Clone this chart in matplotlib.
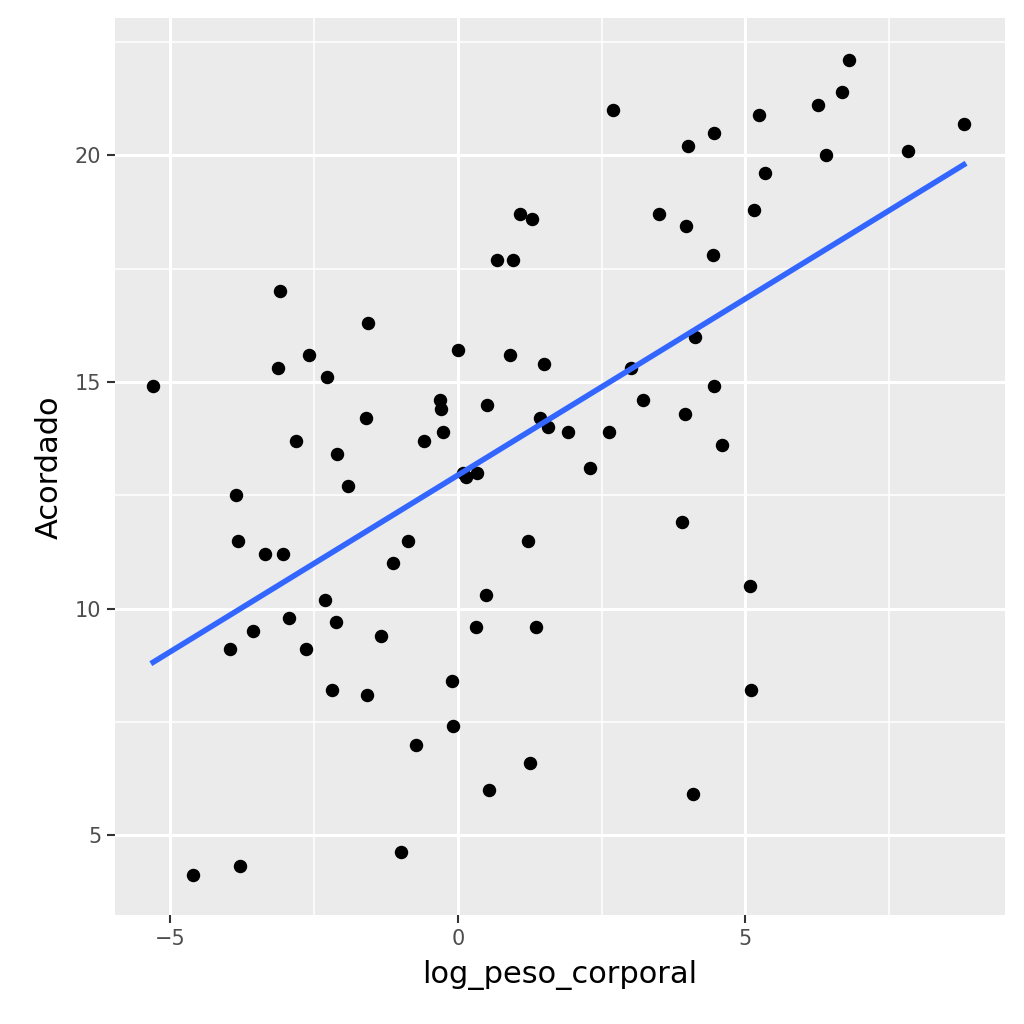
import numpy as np
import matplotlib; matplotlib.use('Agg')
import matplotlib.pyplot as plt

# values
log_peso_corporal = [-5.30,-4.61,-3.79,-3.97,-3.86,-3.83,-3.57,-3.36,-3.04,-3.10,-3.13,-2.94,-2.82,-2.64,
    -2.59,-2.31,-2.28,-2.19,-2.10,-2.12,-1.91,-1.60,-1.57,-1.58,-1.34,-1.13,-0.99,-0.87,-0.73,-0.59,
    -0.31,-0.30,-0.26,-0.10,-0.09,0.00,0.09,0.14,0.33,0.31,0.50,0.49,0.54,0.68,0.90,0.96,1.08,1.22,
    1.25,1.29,1.36,1.43,1.50,1.57,1.91,2.30,2.63,2.70,3.01,3.22,3.50,3.90,3.95,3.97,4.00,4.09,4.12,
    4.43,4.45,4.45,4.59,5.08,5.10,5.15,5.23,5.34,6.26,6.40,6.68,6.80,7.83,8.80]
acordado = [14.91,4.12,4.32,9.1,12.5,11.5,9.5,11.2,11.2,17.0,15.3,9.8,13.7,9.1,
    15.6,10.2,15.1,8.2,13.4,9.7,12.7,14.2,16.3,8.1,9.4,11.0,4.63,11.5,7.0,13.7,
    14.6,14.4,13.9,8.4,7.4,15.7,13.0,12.9,13.0,9.6,14.5,10.3,6.0,17.7,15.6,17.7,18.7,11.5,
    6.6,18.6,9.6,14.2,15.4,14.0,13.9,13.1,13.9,21.0,15.3,14.6,18.7,11.9,14.3,18.45,20.2,5.9,16.0,
    17.8,14.9,20.5,13.6,10.5,8.2,18.8,20.9,19.6,21.1,20.0,21.4,22.1,20.1,20.7]

x = np.array(log_peso_corporal); y = np.array(acordado)
slope, inter = np.polyfit(x, y, 1)

fig = plt.figure(figsize=(10.24, 10.24), dpi=100)
ax = fig.add_axes([0.112, 0.106, 0.869, 0.876])
ax.set_facecolor('#EBEBEB')
for s in ax.spines.values(): s.set_visible(False)
ax.set_xlim(-5.97, 9.51); ax.set_ylim(3.23, 23.02)
ax.set_xticks([-5, 0, 5]); ax.set_yticks([5, 10, 15, 20])
ax.set_xticks([-2.5, 2.5, 7.5], minor=True); ax.set_yticks([7.5, 12.5, 17.5, 22.5], minor=True)
ax.grid(which='major', color='white', lw=2.2)
ax.grid(which='minor', color='white', lw=1.1)
ax.set_axisbelow(True)
ax.tick_params(which='major', length=6, width=1.5, color='#333333', labelsize=15, labelcolor='#4D4D4D')
ax.tick_params(which='minor', length=0)

ax.scatter(x, y, s=75, color='black', zorder=3)
xs = np.array([x.min(), x.max()])
ax.plot(xs, inter + slope * xs, color='#3366FF', lw=4, zorder=4)

ax.set_xlabel('log_peso_corporal', fontsize=22, labelpad=8)
ax.set_ylabel('Acordado', fontsize=22, labelpad=8)
fig.savefig('out.png', dpi=100, facecolor='white')
